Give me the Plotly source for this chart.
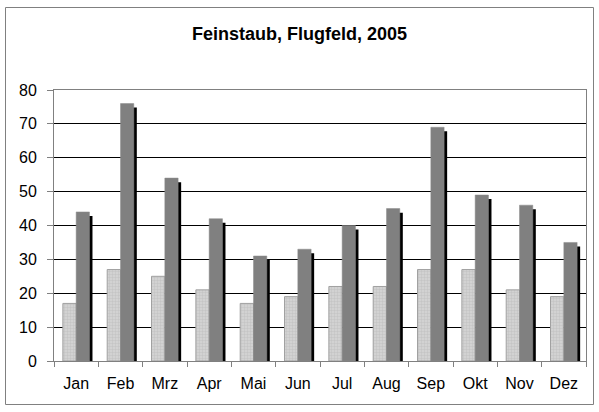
import plotly.graph_objects as go

months = ["Jan", "Feb", "Mrz", "Apr", "Mai", "Jun", "Jul", "Aug", "Sep", "Okt", "Nov", "Dez"]
series_light = [17, 27, 25, 21, 17, 19, 22, 22, 27, 27, 21, 19]
series_dark = [44, 76, 54, 42, 31, 33, 40, 45, 69, 49, 46, 35]
y_ticks = [0, 10, 20, 30, 40, 50, 60, 70, 80]

W, H = 599, 412
L, R, T, B = 54, 13, 90, 51
pw = W - L - R
ph = H - T - B

bw = 0.3
shadow_dx = 0.068
shadow_dy = 1.2

fig = go.Figure()
fig.add_trace(go.Bar(
    x=months, y=series_light, offset=-bw, width=bw,
    marker=dict(color="#cccccc", line=dict(color="#a0a0a0", width=1),
                pattern=dict(shape=".", fgcolor="#b4b4b4", bgcolor="#d6d6d6", size=3, solidity=0.5)),
    showlegend=False, hoverinfo="skip"))
fig.add_trace(go.Bar(
    x=months, y=[v - shadow_dy for v in series_dark], offset=shadow_dx, width=bw,
    marker=dict(color="#000000", line=dict(width=0)),
    showlegend=False, hoverinfo="skip"))
fig.add_trace(go.Bar(
    x=months, y=series_dark, offset=0, width=bw,
    marker=dict(color="#808080", line=dict(color="#8a8a8a", width=0.5)),
    showlegend=False))

fig.update_layout(
    width=W, height=H,
    margin=dict(l=L, r=R, t=T, b=B, pad=0),
    barmode="overlay",
    paper_bgcolor="white", plot_bgcolor="white",
    font=dict(family="Liberation Sans, Arial, sans-serif", size=16, color="black"),
    title=dict(text="<b>Feinstaub, Flugfeld, 2005</b>", x=0.5, xanchor="center",
               y=1 - 34 / H, yanchor="middle", font=dict(size=18)),
    xaxis=dict(type="category", tickson="boundaries", ticks="outside", ticklen=5,
               tickcolor="#808080", showline=True, linecolor="#808080", linewidth=1,
               mirror=True, showgrid=False, ticklabelstandoff=8),
    yaxis=dict(range=[0, 80], tickvals=y_ticks, ticks="outside", ticklen=6,
               tickcolor="#808080", showline=True, linecolor="#808080", linewidth=1,
               mirror=True, showgrid=True, gridcolor="#000000", gridwidth=1,
               zeroline=False, ticklabelstandoff=7),
    shapes=[dict(type="rect", xref="paper", yref="paper",
                 x0=(5.5 - L) / pw, x1=(593.5 - L) / pw,
                 y0=(H - B - 404.5) / ph, y1=(H - B - 7.5) / ph,
                 line=dict(color="#808080", width=1), fillcolor="rgba(0,0,0,0)", layer="below")],
)

fig.write_html("out.html", config={"displayModeBar": False})

with open("out.html", "r", encoding="utf-8") as f:
    html = f.read()
html = html.replace("<head>", "<head><style>html,body{margin:0;padding:0;overflow:hidden;}</style>", 1)
with open("out.html", "w", encoding="utf-8") as f:
    f.write(html)
